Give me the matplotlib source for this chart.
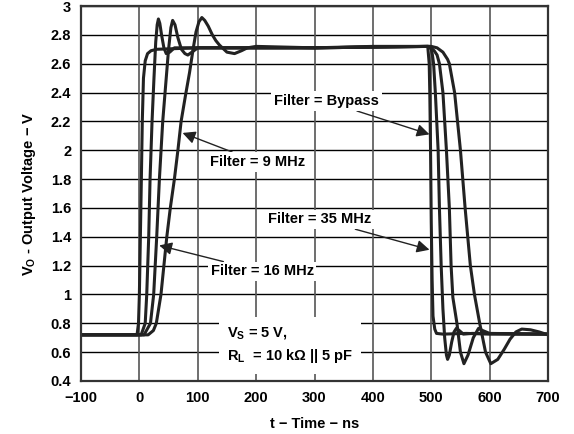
import matplotlib
matplotlib.use('Agg')
import matplotlib.pyplot as plt

plt.rcParams['font.family'] = ['Liberation Sans', 'DejaVu Sans']
plt.rcParams['font.weight'] = 'bold'
plt.rcParams['mathtext.fontset'] = 'custom'
plt.rcParams['mathtext.rm'] = 'Liberation Sans:bold'
plt.rcParams['mathtext.it'] = 'Liberation Sans:bold'
plt.rcParams['mathtext.bf'] = 'Liberation Sans:bold'

# Datos (t en ns, V en voltios)
t_bypass = [-100, -4, -1.5, 0, 1.7, 3.4, 5, 7, 10, 14, 20, 30, 100, 200, 300, 400, 494,
            496.5, 497.5, 498.8, 500, 501.5, 503, 506, 509, 520, 560, 600, 700]
v_bypass = [0.72, 0.72, 0.8, 1.0, 1.4, 1.8, 2.2, 2.5, 2.62, 2.67, 2.69, 2.70, 2.71, 2.71, 2.71, 2.72, 2.72,
            2.6, 2.4, 2.0, 1.5, 1.1, 0.85, 0.76, 0.73, 0.725, 0.73, 0.725, 0.725]

t_35 = [-100, 3, 10, 12.6, 16, 18.3, 21.7, 25, 28, 30.5, 32.6, 35, 38, 42, 46, 52, 60, 80, 300, 495,
        500, 502, 504, 507, 511.8, 514, 517, 520, 523, 526, 528, 531, 535, 539, 543, 548, 555, 570, 700]
v_35 = [0.72, 0.72, 0.8, 1.0, 1.4, 1.8, 2.2, 2.5, 2.75, 2.87, 2.91, 2.88, 2.8, 2.71, 2.67, 2.68, 2.71, 2.71, 2.71, 2.72,
        2.7, 2.66, 2.6, 2.4, 2.0, 1.6, 1.2, 0.9, 0.7, 0.58, 0.55, 0.58, 0.67, 0.74, 0.765, 0.75, 0.725, 0.73, 0.725]

t_16 = [-100, 8, 19, 24.5, 29.7, 34.3, 40, 46, 50, 54, 57, 61, 66, 72, 78, 83, 90, 100, 300, 497,
        505, 510, 514, 520, 526, 531, 534, 537, 544, 550, 556, 563, 572, 581, 588, 600, 700]
v_16 = [0.72, 0.72, 0.8, 1.0, 1.4, 1.8, 2.2, 2.5, 2.7, 2.85, 2.90, 2.87, 2.78, 2.7, 2.67, 2.66, 2.68, 2.71, 2.71, 2.72,
        2.69, 2.66, 2.6, 2.4, 2.0, 1.6, 1.2, 0.98, 0.8, 0.6, 0.52, 0.58, 0.7, 0.765, 0.75, 0.73, 0.725]

t_9 = [-100, 15, 24, 29, 37, 42, 47, 53, 60, 66, 71.5, 79, 86, 92, 97, 102, 107, 112, 118, 125, 131, 137, 150,
       163, 175, 185, 200, 300, 500, 510, 520, 528, 531, 540, 550, 558, 567, 574, 583, 593, 602, 614, 625, 635,
       645, 655, 670, 685, 700]
v_9 = [0.72, 0.72, 0.75, 0.8, 1.0, 1.2, 1.4, 1.6, 1.8, 2.0, 2.2, 2.38, 2.54, 2.7, 2.82, 2.89, 2.92, 2.9, 2.86, 2.8,
       2.76, 2.73, 2.68, 2.67, 2.69, 2.71, 2.72, 2.71, 2.72, 2.71, 2.68, 2.63, 2.6, 2.4, 2.0, 1.6, 1.2, 1.0, 0.8, 0.6,
       0.52, 0.55, 0.62, 0.69, 0.74, 0.76, 0.755, 0.74, 0.72]

xticks = [-100, 0, 100, 200, 300, 400, 500, 600, 700]
xlabels = ['\u2212100', '0', '100', '200', '300', '400', '500', '600', '700']
yticks = [0.4, 0.6, 0.8, 1.0, 1.2, 1.4, 1.6, 1.8, 2.0, 2.2, 2.4, 2.6, 2.8, 3.0]
ylabels = ['0.4', '0.6', '0.8', '1', '1.2', '1.4', '1.6', '1.8', '2', '2.2', '2.4', '2.6', '2.8', '3']

fs = 10.5

fig = plt.figure(figsize=(5.74, 4.34), dpi=100)
ax = fig.add_axes([81 / 574, 1 - 381 / 434, 467 / 574, 375 / 434])

# rejilla
for y in yticks:
    ax.axhline(y, color='black', lw=1.0, zorder=1)
for x in xticks:
    ax.axvline(x, color='#555555', lw=1.2, zorder=1)

color_curva = '#222222'
for t, v in [(t_bypass, v_bypass), (t_35, v_35), (t_16, v_16), (t_9, v_9)]:
    ax.plot(t, v, color=color_curva, lw=2.2, zorder=3, solid_joinstyle='round')

ax.set_xlim(-100, 700)
ax.set_ylim(0.4, 3.0)
ax.set_xticks(xticks)
ax.set_xticklabels(xlabels)
ax.set_yticks(yticks)
ax.set_yticklabels(ylabels)
ax.tick_params(length=0, labelsize=fs, pad=7)
for s in ax.spines.values():
    s.set_linewidth(1.6)
    s.set_color('#333333')
    s.set_zorder(5)

ax.set_xlabel('t \u2212 Time \u2212 ns', fontsize=fs, fontweight='bold', labelpad=9)
ax.set_ylabel('V$_\\mathregular{O}$ - Output Voltage \u2212 V', fontsize=fs, fontweight='bold', labelpad=9)

caja = dict(facecolor='white', edgecolor='none', pad=2)
flecha = dict(arrowstyle='-|>', color='#222222', lw=1.0, mutation_scale=19, shrinkA=0, shrinkB=0)

ax.annotate('Filter = Bypass', xy=(497, 2.11), xytext=(231, 2.34), fontsize=fs, fontweight='bold',
            va='center', ha='left', bbox=caja, arrowprops=flecha, zorder=4)
ax.annotate('Filter = 9 MHz', xy=(74, 2.12), xytext=(121, 1.92), fontsize=fs, fontweight='bold',
            va='center', ha='left', bbox=caja, arrowprops=flecha, zorder=4)
ax.annotate('Filter = 35 MHz', xy=(497, 1.31), xytext=(221, 1.52), fontsize=fs, fontweight='bold',
            va='center', ha='left', bbox=caja, arrowprops=flecha, zorder=4)
ax.annotate('Filter = 16 MHz', xy=(34, 1.34), xytext=(122, 1.16), fontsize=fs, fontweight='bold',
            va='center', ha='left', bbox=caja, arrowprops=flecha, zorder=4)

ax.text(150, 0.65, 'V$_\\mathregular{S}$ = 5 V,\nR$_\\mathregular{L}$  = 10 k\u03a9 || 5 pF', fontsize=fs,
        fontweight='bold', va='center', ha='left', linespacing=1.5,
        bbox=dict(facecolor='white', edgecolor='none', pad=6), zorder=4)

fig.savefig('out.png', dpi=100)
